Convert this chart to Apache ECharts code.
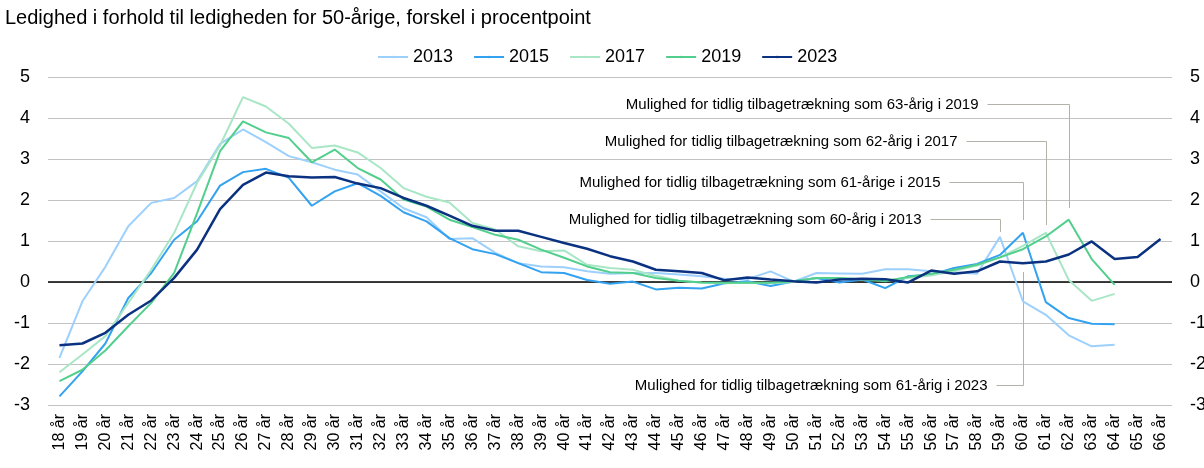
<!DOCTYPE html>
<html>
<head>
<meta charset="utf-8">
<script src="https://cdn.jsdelivr.net/npm/echarts@6/dist/echarts.min.js"></script>
<style>
  html, body { margin: 0; padding: 0; background: #fff; }
  #chart { width: 1204px; height: 468px; }
</style>
</head>
<body>
<div id="chart"></div>
<script>
// alder 18-66 år
const ages = [];
for (let a = 18; a <= 66; a++) ages.push(a + ' år');

const yTicks = [-3, -2, -1, 0, 1, 2, 3, 4, 5];

const s2013 = [-1.85, -0.47, 0.37, 1.36, 1.93, 2.05, 2.46, 3.37, 3.72, 3.41, 3.07, 2.92, 2.74, 2.62, 2.21, 1.8, 1.58, 1.05, 1.07, 0.71, 0.46, 0.38, 0.36, 0.26, 0.2, 0.22, 0.22, 0.18, 0.14, 0.08, 0.07, 0.26, 0.01, 0.22, 0.21, 0.2, 0.31, 0.31, 0.26, 0.24, 0.2, 1.1, -0.47, -0.8, -1.3, -1.57, -1.53];
const s2015 = [-2.79, -2.18, -1.5, -0.39, 0.22, 1.03, 1.48, 2.35, 2.68, 2.76, 2.54, 1.86, 2.21, 2.41, 2.1, 1.7, 1.48, 1.07, 0.8, 0.68, 0.46, 0.24, 0.22, 0.05, -0.04, 0.01, -0.18, -0.14, -0.16, -0.03, 0.02, -0.1, 0.01, 0.1, -0.01, 0.06, -0.15, 0.14, 0.18, 0.34, 0.44, 0.66, 1.2, -0.49, -0.88, -1.02, -1.03];
const s2017 = [-2.2, -1.77, -1.32, -0.51, 0.3, 1.2, 2.42, 3.33, 4.51, 4.28, 3.86, 3.27, 3.33, 3.16, 2.78, 2.29, 2.08, 1.94, 1.44, 1.28, 0.87, 0.75, 0.77, 0.42, 0.34, 0.3, 0.15, 0.03, -0.02, -0.03, -0.02, -0.03, 0.0, 0.1, 0.1, 0.06, 0.05, 0.1, 0.16, 0.27, 0.4, 0.6, 0.88, 1.2, 0.05, -0.46, -0.29];
const s2019 = [-2.42, -2.14, -1.67, -1.08, -0.51, 0.22, 1.68, 3.19, 3.92, 3.65, 3.51, 2.92, 3.23, 2.78, 2.5, 2.01, 1.84, 1.52, 1.34, 1.15, 1.03, 0.79, 0.59, 0.38, 0.24, 0.22, 0.1, 0.03, -0.01, -0.02, -0.02, -0.02, 0.02, 0.1, 0.1, 0.06, 0.02, 0.12, 0.2, 0.3, 0.42, 0.6, 0.8, 1.11, 1.52, 0.56, -0.07];
const s2023 = [-1.54, -1.5, -1.24, -0.8, -0.45, 0.1, 0.79, 1.78, 2.37, 2.67, 2.58, 2.55, 2.56, 2.4, 2.29, 2.05, 1.86, 1.62, 1.37, 1.25, 1.25, 1.1, 0.95, 0.81, 0.63, 0.5, 0.3, 0.26, 0.22, 0.04, 0.11, 0.06, 0.02, -0.01, 0.06, 0.08, 0.07, -0.01, 0.28, 0.2, 0.26, 0.5, 0.46, 0.5, 0.67, 0.99, 0.56, 0.61, 1.05];

// annoteringer: tekst, alder, y-værdi for teksten, y-værdi hvor linjen stopper
const noteTexts = [
  'Mulighed for tidlig tilbagetrækning som 63-årig i 2019',
  'Mulighed for tidlig tilbagetrækning som 62-årig i 2017',
  'Mulighed for tidlig tilbagetrækning som 61-årige i 2015',
  'Mulighed for tidlig tilbagetrækning som 60-årig i 2013',
  'Mulighed for tidlig tilbagetrækning som 61-årig i 2023'
];
const noteAges = ['62 år', '61 år', '60 år', '59 år', '60 år'];
const noteLabelY = [4.35, 3.45, 2.45, 1.54, -2.5];
const noteTipY = [1.81, 1.4, 1.52, 1.23, 0.25];

const FONT = '"Liberation Sans", Arial, sans-serif';
const leadLen = [82, 80, 74, 70, 27];

const chart = echarts.init(document.getElementById('chart'));

function line(name, data, color, width) {
  return {
    name: name,
    type: 'line',
    data: data,
    symbol: 'none',
    legendIcon: 'rect',
    lineStyle: { color: color, width: width },
    itemStyle: { color: color },
    emphasis: { disabled: true },
    z: 3
  };
}

const series = [
  line('2013', s2013, '#9dd0fc', 2),
  line('2015', s2015, '#33a2f0', 2),
  line('2017', s2017, '#a9e6c6', 2),
  line('2019', s2019, '#52cf8c', 2),
  line('2023', s2023, '#0b3280', 2.5)
];
// sort nul-linje
series[0].markLine = {
  silent: true,
  symbol: 'none',
  label: { show: false },
  lineStyle: { color: '#000', width: 1.5, type: 'solid' },
  data: [{ yAxis: 0 }],
  z: 2
};

const yAxisBase = {
  type: 'value',
  min: yTicks[0],
  max: yTicks[yTicks.length - 1],
  interval: 1,
  axisLine: { show: false },
  axisTick: { show: false },
  axisLabel: { color: '#000', fontSize: 18, fontFamily: FONT, margin: 18 }
};

chart.setOption({
  animation: false,
  title: {
    text: 'Ledighed i forhold til ledigheden for 50-årige, forskel i procentpoint',
    left: 0,
    top: 3,
    textStyle: { color: '#000', fontSize: 20, fontWeight: 'normal', fontFamily: FONT }
  },
  legend: {
    top: 43,
    left: 372,
    itemWidth: 30,
    itemHeight: 3,
    itemGap: 20,
    textStyle: { color: '#000', fontSize: 18, fontFamily: FONT },
    data: ['2013', '2015', '2017', '2019', '2023']
  },
  grid: {
    left: 48, right: 32, top: 77, bottom: 63,
    containLabel: false,
    outerBoundsMode: 'none'
  },
  xAxis: {
    type: 'category',
    data: ages,
    boundaryGap: true,
    axisLine: { show: false },
    axisTick: { show: false },
    axisLabel: {
      color: '#000', fontSize: 16, fontFamily: FONT,
      rotate: 90, interval: 0, margin: 9
    }
  },
  yAxis: [
    Object.assign({}, yAxisBase, {
      position: 'left',
      splitLine: { lineStyle: { color: '#c3c3c3', width: 1 } }
    }),
    Object.assign({}, yAxisBase, {
      position: 'right',
      splitLine: { show: false }
    })
  ],
  series: series
});

// ledelinjer og tekst placeres ud fra akserne
const graphics = [];
noteTexts.forEach(function (txt, i) {
  const top = chart.convertToPixel({ gridIndex: 0 }, [noteAges[i], noteLabelY[i]]);
  const tip = chart.convertToPixel({ gridIndex: 0 }, [noteAges[i], noteTipY[i]]);
  const x = Math.round(top[0]) + 0.5;
  const y = Math.round(top[1]) + 0.5;
  const x0 = x - leadLen[i];
  graphics.push({
    type: 'polyline',
    silent: true,
    shape: { points: [[x0, y], [x, y], [x, Math.round(tip[1])]] },
    style: { stroke: '#b4b2a8', lineWidth: 1, fill: null },
    z: 1
  });
  graphics.push({
    type: 'text',
    silent: true,
    x: x0 - 9,
    y: y,
    style: {
      text: txt,
      fill: '#000',
      font: '15px ' + FONT,
      align: 'right',
      verticalAlign: 'middle'
    },
    z: 10
  });
});
chart.setOption({ graphic: graphics });
</script>
</body>
</html>
